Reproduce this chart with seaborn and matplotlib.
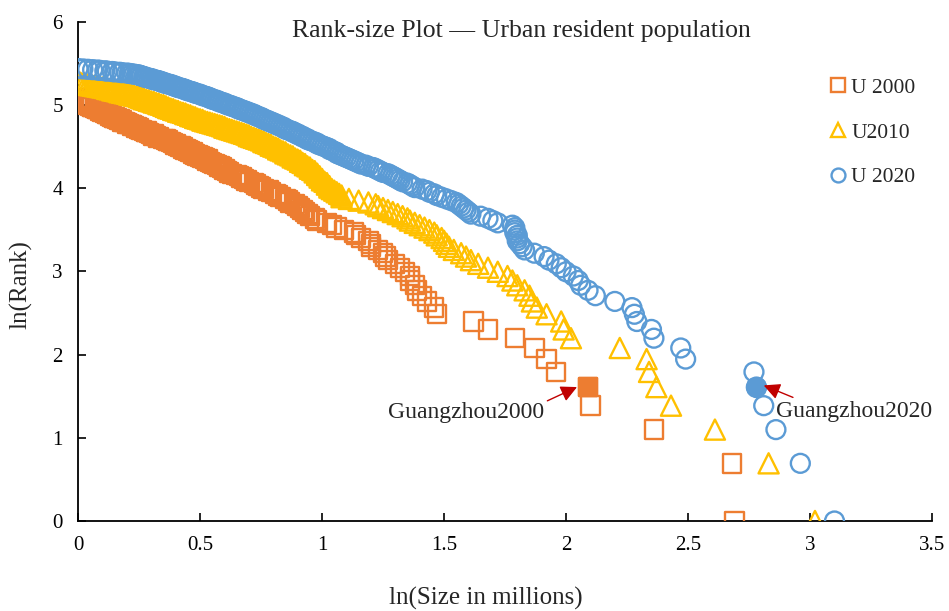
import numpy as np
import pandas as pd
import matplotlib
matplotlib.use('Agg')
import matplotlib.pyplot as plt
from matplotlib.lines import Line2D
import seaborn as sns

# ln(size in millions) for each city, ordered by rank (rank 1 first)
u2000_x = [
    2.69, 2.68, 2.36, 2.10, 2.09, 1.96, 1.92, 1.87, 1.79, 1.68,
    1.62, 1.47, 1.46, 1.43, 1.41, 1.39, 1.38, 1.36, 1.36, 1.34,
    1.32, 1.30, 1.27, 1.26, 1.25, 1.23, 1.20, 1.20, 1.19, 1.16,
    1.14, 1.13, 1.09, 1.06, 1.04, 1.02, 0.98, 0.97, 0.95, 0.94,
    0.93, 0.92, 0.91, 0.90, 0.89, 0.87, 0.86, 0.85, 0.83, 0.82,
    0.81, 0.79, 0.78, 0.76, 0.75, 0.74, 0.73, 0.72, 0.70, 0.69,
    0.68, 0.67, 0.66, 0.65, 0.63, 0.62, 0.61, 0.60, 0.60, 0.59,
    0.58, 0.57, 0.56, 0.55, 0.54, 0.53, 0.53, 0.52, 0.51, 0.50,
    0.49, 0.48, 0.47, 0.47, 0.46, 0.45, 0.44, 0.43, 0.43, 0.42,
    0.41, 0.40, 0.40, 0.39, 0.38, 0.37, 0.37, 0.36, 0.35, 0.33,
    0.33, 0.32, 0.31, 0.31, 0.30, 0.29, 0.28, 0.28, 0.27, 0.26,
    0.25, 0.25, 0.24, 0.24, 0.23, 0.22, 0.22, 0.21, 0.20, 0.20,
    0.19, 0.18, 0.18, 0.17, 0.17, 0.16, 0.15, 0.15, 0.14, 0.14,
    0.13, 0.13, 0.12, 0.12, 0.11, 0.11, 0.10, 0.10, 0.09, 0.09,
    0.08, 0.08, 0.07, 0.07, 0.06, 0.06, 0.05, 0.05, 0.04, 0.04,
    0.04, 0.03, 0.03, 0.02, 0.02, 0.02, 0.01, 0.01, 0.01, 0.00,
    0.00,
]

u2010_x = [
    3.02, 2.83, 2.61, 2.43, 2.37, 2.34, 2.33, 2.22, 2.02, 1.99,
    1.98, 1.92, 1.88, 1.86, 1.85, 1.83, 1.80, 1.78, 1.76, 1.72,
    1.68, 1.64, 1.61, 1.59, 1.57, 1.54, 1.52, 1.51, 1.50, 1.49,
    1.47, 1.46, 1.44, 1.42, 1.40, 1.38, 1.36, 1.35, 1.33, 1.31,
    1.29, 1.27, 1.25, 1.23, 1.22, 1.19, 1.15, 1.11, 1.08, 1.08,
    1.07, 1.06, 1.05, 1.04, 1.03, 1.03, 1.02, 1.02, 1.01, 1.00,
    1.00, 0.99, 0.99, 0.98, 0.98, 0.97, 0.97, 0.96, 0.95, 0.95,
    0.94, 0.93, 0.93, 0.92, 0.91, 0.91, 0.90, 0.89, 0.88, 0.88,
    0.87, 0.86, 0.85, 0.85, 0.84, 0.83, 0.82, 0.82, 0.81, 0.80,
    0.79, 0.79, 0.78, 0.77, 0.76, 0.76, 0.75, 0.74, 0.73, 0.72,
    0.71, 0.70, 0.70, 0.69, 0.68, 0.67, 0.66, 0.65, 0.64, 0.63,
    0.62, 0.61, 0.60, 0.60, 0.59, 0.58, 0.57, 0.56, 0.55, 0.54,
    0.53, 0.52, 0.51, 0.51, 0.50, 0.49, 0.48, 0.48, 0.47, 0.46,
    0.46, 0.45, 0.44, 0.44, 0.43, 0.42, 0.41, 0.41, 0.40, 0.39,
    0.39, 0.38, 0.37, 0.37, 0.36, 0.36, 0.35, 0.35, 0.34, 0.33,
    0.33, 0.32, 0.31, 0.31, 0.30, 0.29, 0.29, 0.28, 0.27, 0.27,
    0.26, 0.26, 0.25, 0.25, 0.24, 0.23, 0.22, 0.21, 0.21, 0.20,
    0.19, 0.18, 0.17, 0.17, 0.16, 0.15, 0.14, 0.14, 0.13, 0.12,
    0.12, 0.11, 0.10, 0.09, 0.08, 0.07, 0.06, 0.05, 0.04, 0.04,
    0.03, 0.02, 0.01, 0.01, 0.00,
]

u2020_x = [
    3.10, 2.96, 2.86, 2.81, 2.78, 2.77, 2.49, 2.47, 2.36, 2.35,
    2.29, 2.28, 2.27, 2.20, 2.12, 2.09, 2.06, 2.05, 2.03, 2.00,
    1.98, 1.96, 1.93, 1.91, 1.87, 1.83, 1.82, 1.81, 1.80, 1.80,
    1.80, 1.79, 1.79, 1.79, 1.78, 1.72, 1.70, 1.68, 1.65, 1.61,
    1.60, 1.59, 1.58, 1.57, 1.56, 1.55, 1.53, 1.51, 1.49, 1.47,
    1.46, 1.44, 1.43, 1.41, 1.38, 1.37, 1.36, 1.35, 1.33, 1.32,
    1.31, 1.30, 1.29, 1.28, 1.27, 1.25, 1.24, 1.23, 1.22, 1.21,
    1.19, 1.18, 1.16, 1.15, 1.14, 1.13, 1.12, 1.11, 1.10, 1.09,
    1.08, 1.07, 1.06, 1.06, 1.05, 1.04, 1.03, 1.03, 1.02, 1.01,
    1.00, 0.99, 0.98, 0.98, 0.97, 0.96, 0.95, 0.94, 0.94, 0.93,
    0.92, 0.92, 0.91, 0.90, 0.90, 0.89, 0.88, 0.88, 0.87, 0.86,
    0.85, 0.85, 0.84, 0.84, 0.83, 0.82, 0.82, 0.81, 0.80, 0.80,
    0.79, 0.78, 0.78, 0.77, 0.76, 0.76, 0.75, 0.75, 0.74, 0.73,
    0.73, 0.72, 0.72, 0.71, 0.70, 0.70, 0.69, 0.68, 0.68, 0.67,
    0.66, 0.66, 0.65, 0.65, 0.64, 0.63, 0.63, 0.62, 0.61, 0.61,
    0.60, 0.60, 0.59, 0.58, 0.58, 0.57, 0.57, 0.56, 0.55, 0.55,
    0.54, 0.54, 0.53, 0.53, 0.52, 0.51, 0.51, 0.50, 0.50, 0.49,
    0.48, 0.48, 0.47, 0.47, 0.46, 0.45, 0.45, 0.44, 0.44, 0.43,
    0.43, 0.42, 0.41, 0.41, 0.40, 0.40, 0.39, 0.39, 0.38, 0.38,
    0.37, 0.36, 0.36, 0.35, 0.35, 0.34, 0.34, 0.33, 0.33, 0.32,
    0.31, 0.31, 0.30, 0.30, 0.29, 0.28, 0.28, 0.27, 0.27, 0.26,
    0.26, 0.25, 0.25, 0.24, 0.23, 0.22, 0.21, 0.20, 0.18, 0.17,
    0.15, 0.14, 0.12, 0.11, 0.09, 0.08, 0.06, 0.04, 0.02, 0.00,
]

series_labels = ['U 2000', 'U2010', 'U 2020']
series_markers = ['s', '^', 'o']
series_colors = ['#ED7D31', '#FFC000', '#5B9BD5']
guangzhou_rank = 5  # Guangzhou is rank 5 in 2000 and 2020


def rank_frame(xs, label):
    ranks = np.arange(1, len(xs) + 1)
    return pd.DataFrame({'ln_size': xs, 'ln_rank': np.log(ranks), 'series': label})


sns.set_style('ticks')
plt.rcParams['font.family'] = ['Liberation Serif', 'DejaVu Serif']

fig = plt.figure(figsize=(9.49, 6.11), dpi=100)
ax = fig.add_axes([0.0822, 0.1473, 0.900, 0.817])

sizes = {'s': 175, '^': 210, 'o': 185}
frames = [rank_frame(xs, lab) for xs, lab in zip([u2000_x, u2010_x, u2020_x], series_labels)]
for df, marker, color in zip(frames, series_markers, series_colors):
    sns.scatterplot(data=df, x='ln_size', y='ln_rank', marker=marker, s=sizes[marker],
                    color=color, facecolor='none', edgecolor=color, linewidth=1.7,
                    ax=ax, legend=False, zorder=3)

# highlighted Guangzhou points
for df, marker, color in [(frames[0], 's', series_colors[0]), (frames[2], 'o', series_colors[2])]:
    row = df.iloc[[guangzhou_rank - 1]]
    sns.scatterplot(data=row, x='ln_size', y='ln_rank', marker=marker, s=sizes[marker],
                    color=color, edgecolor=color, linewidth=1.7, ax=ax, legend=False, zorder=4)

arrow_kw = dict(arrowstyle='-|>,head_length=0.7,head_width=0.35', color='#C00000',
                lw=1.0, shrinkA=0, shrinkB=0, mutation_scale=14)
ax.annotate('Guangzhou2000', xy=(2.045, 1.61), xytext=(1.59, 1.30), fontsize=17,
            ha='center', va='center', zorder=5,
            arrowprops=dict(relpos=(1.0, 1.0), **arrow_kw))
ax.annotate('Guangzhou2020', xy=(2.81, 1.63), xytext=(3.18, 1.32), fontsize=17,
            ha='center', va='center', zorder=5,
            arrowprops=dict(relpos=(0.16, 1.0), **arrow_kw))

ax.set_xlim(0, 3.5)
ax.set_ylim(0, 6)
ax.set_xticks(np.arange(0, 3.51, 0.5))
ax.set_xticklabels(['0', '0.5', '1', '1.5', '2', '2.5', '3', '3.5'])
ax.set_yticks(range(7))
ax.tick_params(direction='in', length=6, width=1.2, labelsize=15, pad=11, colors='black')
for side in ['top', 'right']:
    ax.spines[side].set_visible(False)
for side in ['left', 'bottom']:
    ax.spines[side].set_color('black')
    ax.spines[side].set_linewidth(1.3)

ax.set_xlabel('ln(Size in millions)', fontsize=18)
ax.xaxis.set_label_coords(0.478, -0.132)
ax.set_ylabel('ln(Rank)', fontsize=18)
ax.yaxis.set_label_coords(-0.053, 0.473)
ax.text(0.519, 0.982, 'Rank-size Plot \u2014 Urban resident population', transform=ax.transAxes,
        ha='center', va='center', fontsize=18.5)

handles = [Line2D([], [], linestyle='none', marker=m, markersize=10, markerfacecolor='none',
                  markeredgecolor=c, markeredgewidth=1.7, label=l)
           for m, c, l in zip(series_markers, series_colors, series_labels)]
ax.legend(handles=handles, loc='upper left', bbox_to_anchor=(0.880, 0.888), frameon=False,
          fontsize=15.5, handlelength=0.8, handletextpad=0.2, labelspacing=1.15,
          borderpad=0, borderaxespad=0)

fig.savefig('out.png', dpi=100)
